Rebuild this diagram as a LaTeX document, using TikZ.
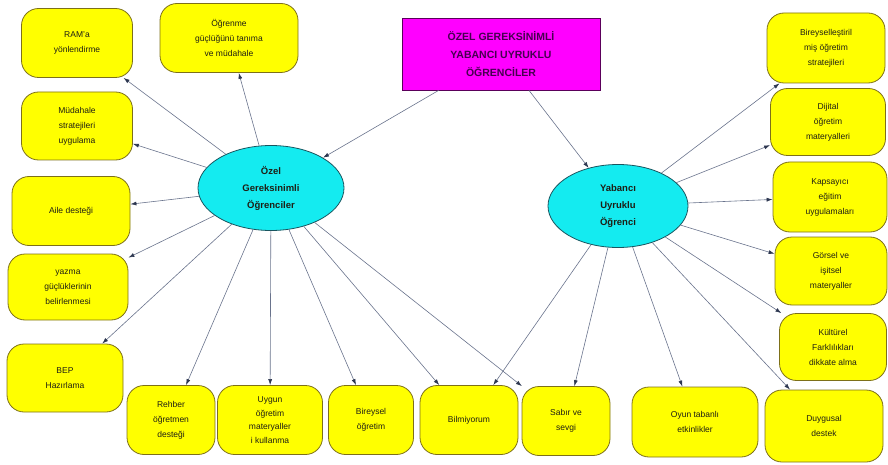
\documentclass[tikz,border=0pt]{standalone}
\usepackage{fontspec}
\setmainfont{Liberation Sans}
\usetikzlibrary{shapes.geometric,arrows.meta}
\definecolor{boxfill}{RGB}{255,255,0}
\definecolor{boxline}{RGB}{125,112,25}
\definecolor{hubfill}{RGB}{20,235,240}
\definecolor{hubline}{RGB}{25,85,95}
\definecolor{titlefill}{RGB}{255,0,255}
\definecolor{titleline}{RGB}{90,0,90}
\definecolor{titletext}{RGB}{70,0,80}
\definecolor{linkc}{RGB}{105,115,140}
\definecolor{tipc}{RGB}{45,55,80}
\definecolor{txt}{RGB}{30,30,20}

\begin{document}
\begin{tikzpicture}[x=1pt,y=-1pt,
box/.style={draw=boxline,fill=boxfill,thick,rounded corners=17pt,align=center,text=txt,font=\fontsize{8.5}{15}\selectfont,inner sep=2pt,minimum height=69pt},
hub/.style={ellipse,draw=hubline,fill=hubfill,thick,align=center,text=txt,font=\fontsize{9.5}{17}\selectfont\bfseries,inner sep=0pt,minimum width=146pt,minimum height=85pt},
title/.style={draw=titleline,fill=titlefill,thick,align=center,text=titletext,font=\fontsize{10.5}{18}\selectfont\bfseries,minimum width=198pt,minimum height=72pt},
link/.style={draw=linkc,line width=0.6pt,-{Latex[length=6pt,width=4pt,color=tipc]}}]
	\useasboundingbox (0,0) rectangle (888,465);

	\node[title] at (501,54) (baslik) {ÖZEL GEREKSİNİMLİ\\YABANCI UYRUKLU\\ÖĞRENCİLER};
	\node[hub] at (271,188) (ozel) {Özel\\Gereksinimli\\Öğrenciler};
	\node[hub,minimum width=140pt,minimum height=83pt] at (618,206) (yab) {Yabancı\\Uyruklu\\Öğrenci};

	% left side
	\node[box,minimum width=111pt] at (77,43) (ram) {RAM'a\\yönlendirme};
	\node[box,minimum width=138pt] at (229,38) (ogr) {Öğrenme\\güçlüğünü tanıma\\ve müdahale};
	\node[box,minimum width=111pt,minimum height=68pt] at (77,126) (mud) {Müdahale\\stratejileri\\uygulama};
	\node[box,minimum width=118pt] at (71,211) (aile) {Aile desteği};
	\node[box,minimum width=120pt,minimum height=66pt] at (68,287) (yaz) {yazma\\güçlüklerinin\\belirlenmesi};
	\node[box,minimum width=116pt,minimum height=68pt] at (65,378) (bep) {BEP\\Hazırlama};

	% bottom
	\node[box,minimum width=88pt] at (171,420) (reh) {Rehber\\öğretmen\\desteği};
	\node[box,minimum width=105pt,font=\fontsize{8.5}{13.5}\selectfont] at (270,420) (uyg) {Uygun\\öğretim\\materyaller\\i kullanma};
	\node[box,minimum width=85pt] at (371,420) (bir) {Bireysel\\öğretim};
	\node[box,minimum width=98pt] at (469,420) (bil) {Bilmiyorum};
	\node[box,minimum width=88pt] at (566,421) (sab) {Sabır ve\\sevgi};
	\node[box,minimum width=126pt,minimum height=70pt] at (695,422) (oyun) {Oyun tabanlı\\etkinlikler};
	\node[box,minimum width=118pt,minimum height=72pt] at (824,426) (duy) {Duygusal\\destek};

	% right side
	\node[box,minimum width=107pt,minimum height=67pt] at (833,347) (kul) {Kültürel\\Farklılıkları\\dikkate alma};
	\node[box,minimum width=112pt,minimum height=68pt] at (831,271) (gor) {Görsel ve\\işitsel\\materyaller};
	\node[box,minimum width=114pt,minimum height=70pt] at (830,197) (kap) {Kapsayıcı\\eğitim\\uygulamaları};
	\node[box,minimum width=115pt,minimum height=67pt] at (828,122) (dij) {Dijital\\öğretim\\materyalleri};
	\node[box,minimum width=118pt,minimum height=70pt] at (826,48) (bst) {Bireyselleştiril\\miş öğretim\\stratejileri};

	\draw[link] (baslik) -- (ozel);
	\draw[link] (baslik) -- (yab);

	\foreach \t in {ram,ogr,mud,aile,yaz,bep,reh,uyg,bir,bil,sab} {
		\draw[link] (ozel) -- (\t);
	}
	\foreach \t in {bst,dij,kap,gor,kul,duy,oyun,sab,bil} {
		\draw[link] (yab) -- (\t);
	}
\end{tikzpicture}
\end{document}
